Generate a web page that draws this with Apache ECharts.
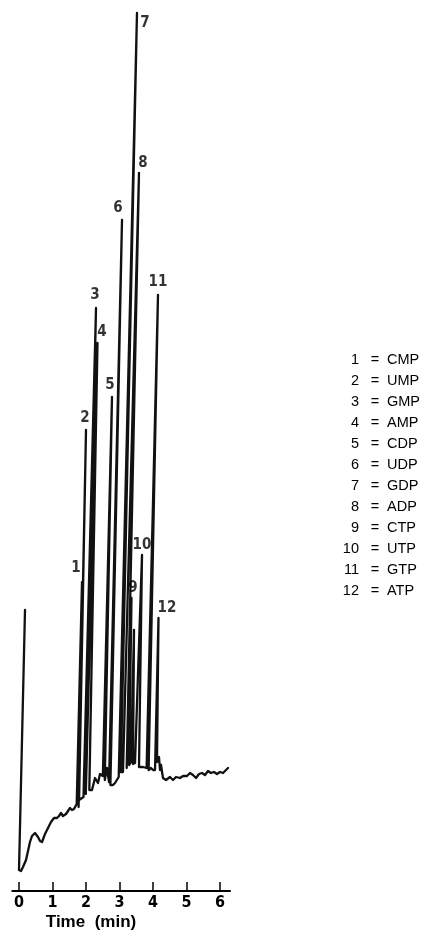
<!DOCTYPE html>
<html>
<head>
<meta charset="utf-8">
<script src="https://cdn.jsdelivr.net/npm/echarts@6/dist/echarts.min.js"></script>
<style>
  html, body { margin: 0; padding: 0; background: #ffffff; }
  #chart { width: 432px; height: 934px; }
</style>
</head>
<body>
<div id="chart"></div>
<script>
// Detector trace of the nucleotide separation: retention time (min) and signal (arbitrary units).
// The recorder pen runs on an arc, so each peak's up and down strokes lean slightly.
const traceTime = [0.179, 0, 0.060, 0.119, 0.209, 0.269, 0.328, 0.388, 0.478, 0.567, 0.627, 0.687,
  0.776, 0.866, 0.955, 1.045, 1.134, 1.194, 1.254, 1.313, 1.403, 1.463, 1.522, 1.582, 1.642, 1.722,
  1.881, 1.779, 2.000, 1.794, 1.925, 2.299, 1.994, 2.343, 2.099, 2.179, 2.269, 2.358, 2.418, 2.504,
  2.776, 2.561, 2.627, 2.687, 3.075, 2.728, 2.806, 2.866, 2.976, 3.522, 3.039, 3.104, 3.582, 3.215,
  3.313, 3.269, 3.358, 3.284, 3.343, 3.433, 3.403, 3.463, 3.522, 3.672, 3.582, 3.701, 3.809, 4.149,
  3.869, 3.940, 4.000, 4.060, 4.164, 4.119, 4.179, 4.209, 4.239, 4.299, 4.388, 4.507, 4.597, 4.687,
  4.806, 4.896, 5.015, 5.104, 5.194, 5.284, 5.373, 5.463, 5.552, 5.642, 5.731, 5.821, 5.910, 6.000,
  6.090, 6.179, 6.239];
const traceSignal = [28.1, 2.1, 2.0, 2.4, 3.1, 4.0, 4.9, 5.5, 5.8, 5.4, 5.0, 4.9,
  5.7, 6.3, 6.9, 7.3, 7.3, 7.5, 7.8, 7.5, 7.7, 8.0, 8.3, 8.1, 8.2, 8.7,
  30.9, 8.4, 46.1, 9.1, 9.4, 58.3, 9.7, 54.8, 10.1, 10.1, 11.3, 10.8, 11.7, 11.5,
  49.4, 11.1, 12.3, 10.9, 67.1, 10.6, 10.6, 10.8, 11.4, 87.8, 11.9, 11.9, 71.8, 12.3,
  25.6, 15.1, 29.3, 12.6, 12.9, 26.1, 12.7, 12.8, 12.7, 33.6, 12.4, 12.4, 12.3, 59.6,
  12.1, 12.3, 12.1, 12.1, 27.3, 12.9, 13.4, 12.1, 12.6, 11.3, 11.1, 11.4, 11.1, 11.4,
  11.3, 11.5, 11.5, 11.8, 11.6, 11.3, 11.7, 11.8, 11.6, 12.0, 11.8, 11.9, 11.7, 11.9,
  11.8, 12.1, 12.3];

// Numbered peak apexes
const peakTime   = [1.881, 2.000, 2.299, 2.343, 2.776, 3.075, 3.522, 3.582, 3.358, 3.672, 4.149, 4.164];
const peakSignal = [30.9, 46.1, 58.3, 54.8, 49.4, 67.1, 87.8, 71.8, 29.3, 33.6, 59.6, 27.3];
const peakNames  = ['1', '2', '3', '4', '5', '6', '7', '8', '9', '10', '11', '12'];

// Peak identities for the key
const compoundNames = ['CMP', 'UMP', 'GMP', 'AMP', 'CDP', 'UDP', 'GDP', 'ADP', 'CTP', 'UTP', 'GTP', 'ATP'];

// Time axis ticks (min)
const timeTicks = [0, 1, 2, 3, 4, 5, 6];

// Pixel nudges so each peak number sits beside its apex
const peakLabelNudge = [[-6, -14], [-1, -12], [-1, -13], [4.5, -11], [-2, -12], [-4, -12],
  [8, 10], [4, -10], [1.5, -10], [0, -10], [0, -13], [8.5, -10]];

const ink = '#000000';
const chart = echarts.init(document.getElementById('chart'), null, { renderer: 'canvas' });

const keyItems = [];
compoundNames.forEach((name, i) => {
  const y = 360 + 21 * i;
  const base = { fill: ink, font: '14.5px "Liberation Sans", Arial, sans-serif', verticalAlign: 'middle' };
  keyItems.push({ type: 'text', x: 359, y: y, style: Object.assign({}, base, { text: peakNames[i], align: 'right' }) });
  keyItems.push({ type: 'text', x: 375, y: y, style: Object.assign({}, base, { text: '=', align: 'center' }) });
  keyItems.push({ type: 'text', x: 387, y: y, style: Object.assign({}, base, { text: name, align: 'left' }) });
});

chart.setOption({
  animation: false,
  backgroundColor: '#ffffff',
  grid: { left: 12.3, right: 201.95, top: 11, bottom: 43, containLabel: false },
  xAxis: {
    type: 'value',
    min: -0.2,
    max: 6.3,
    axisLine: { show: true, onZero: false, lineStyle: { color: ink, width: 2 } },
    axisTick: { show: true, inside: true, length: 9, customValues: timeTicks, lineStyle: { color: ink, width: 1.5 } },
    axisLabel: {
      show: true, customValues: timeTicks, margin: 4, color: ink,
      fontFamily: '"Liberation Sans Narrow", "DejaVu Sans Condensed", sans-serif',
      fontWeight: 'bold', fontSize: 16
    },
    splitLine: { show: false }
  },
  yAxis: { type: 'value', min: 0, max: 88, show: false, splitLine: { show: false } },
  series: [
    {
      type: 'line',
      data: traceTime.map((t, i) => [t, traceSignal[i]]),
      showSymbol: false,
      symbol: 'none',
      clip: false,
      lineStyle: { color: '#111111', width: 2.3, join: 'round', cap: 'round' },
      z: 2
    },
    {
      type: 'scatter',
      data: peakTime.map((t, i) => ({
        value: [t, peakSignal[i]],
        name: peakNames[i],
        label: { offset: peakLabelNudge[i] }
      })),
      symbolSize: 0,
      silent: true,
      clip: false,
      label: {
        show: true, position: 'inside', formatter: '{b}', color: ink,
        fontFamily: '"Liberation Sans Narrow", "DejaVu Sans Condensed", sans-serif',
        fontWeight: 'bold', fontSize: 15
      },
      z: 3
    }
  ],
  graphic: [
    {
      type: 'text', x: 91, y: 922,
      style: {
        text: 'Time  (min)', fill: ink, align: 'center', verticalAlign: 'middle',
        font: 'bold 17px "Liberation Sans", Arial, sans-serif'
      }
    }
  ].concat(keyItems)
});
</script>
</body>
</html>
